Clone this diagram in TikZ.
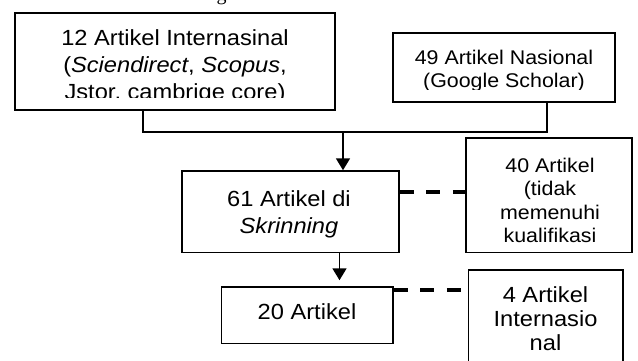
\documentclass[tikz,border=0pt]{standalone}
\usepackage{fontspec}
\setmainfont{Liberation Sans}[FakeStretch=1.08]
\newfontfamily\serifg{Liberation Serif}
\usetikzlibrary{arrows.meta}
\begin{document}
\begin{tikzpicture}[x=1pt,y=-1pt,
  box/.style={draw, line width=1.5pt, inner sep=0pt},
  txt/.style={anchor=base, inner sep=0pt},
  big/.style={font=\fontsize{21.9}{24}\selectfont},
  small/.style={font=\fontsize{19.8}{22}\selectfont},
  link/.style={line width=1.8pt},
  dashlink/.style={line width=3.5pt, dash pattern=on 14pt off 12.5pt},
  arr/.style={link, -{Triangle[width=14pt,length=12pt]}}]
\useasboundingbox (0,0) rectangle (638,361);
\clip (0,0) rectangle (638,361);
% cut heading fragment
\node[anchor=base, inner sep=0pt, font=\serifg\fontsize{20}{24}\selectfont] (hg) at (221.5,0.5) {g};
% boxes
\node[box, minimum width=320pt, minimum height=97pt] (b1) at (175,61.5) {};
\node[box, minimum width=222pt, minimum height=69pt] (b2) at (504,67.5) {};
\node[box, minimum width=217pt, minimum height=81.5pt] (b3) at (290.5,211.75) {};
\node[box, minimum width=166pt, minimum height=114.5pt] (b4) at (549,195.25) {};
\node[box, minimum width=171.5pt, minimum height=56.5pt] (b5) at (307.25,315.25) {};
\node[box, minimum width=154.5pt, minimum height=105pt] (b6) at (545.75,322.5) {};
% texts
\begin{scope}
\clip (15,13) rectangle (335,97.5);
\node[txt,big] (t1a) at (175,46) {12 Artikel Internasinal};
\node[txt,big] (t1b) at (175,73) {(\textit{Sciendirect}, \textit{Scopus},};
\node[txt,big] (t1c) at (175,99.5) {Jstor, cambrige core)};
\end{scope}
\begin{scope}
\clip (393,33) rectangle (615,89.5);
\node[txt,small] (t2a) at (504,65) {49 Artikel Nasional};
\node[txt,small] (t2b) at (504,88) {(Google Scholar)};
\end{scope}
\node[txt,big] (t3a) at (289,206) {61 Artikel di};
\node[txt,big] (t3b) at (289,233) {\textit{Skrinning}};
\node[txt,small] (t4a) at (550,172) {40 Artikel};
\node[txt,small] (t4b) at (550,195) {(tidak};
\node[txt,small] (t4c) at (550,219) {memenuhi};
\node[txt,small] (t4d) at (550,242) {kualifikasi};
\node[txt,big] (t5a) at (307,319) {20 Artikel};
\node[txt,big] (t6a) at (545.5,302) {4 Artikel};
\node[txt,big] (t6b) at (545.5,326) {Internasio};
\node[txt,big] (t6c) at (545.5,350) {nal};
% connectors
\coordinate (jl) at (143,132);
\coordinate (jr) at (547,132);
\coordinate (jm) at (343,132);
\coordinate (a2) at (339.5,0);
\coordinate (d1) at (0,192);
\coordinate (d2) at (0,290);
\draw[link] (b1.south -| jl) -- (jl) -- (jr) -- (b2.south -| jr);
\draw[arr] (jm) -- (b3.north -| jm);
\draw[arr] (b3.south -| a2) -- ([yshift=6pt]b5.north -| a2);
\draw[dashlink] (b3.east |- d1) -- (b4.west |- d1);
\draw[dashlink] (b5.east |- d2) -- (b6.west |- d2);
\end{tikzpicture}
\end{document}
